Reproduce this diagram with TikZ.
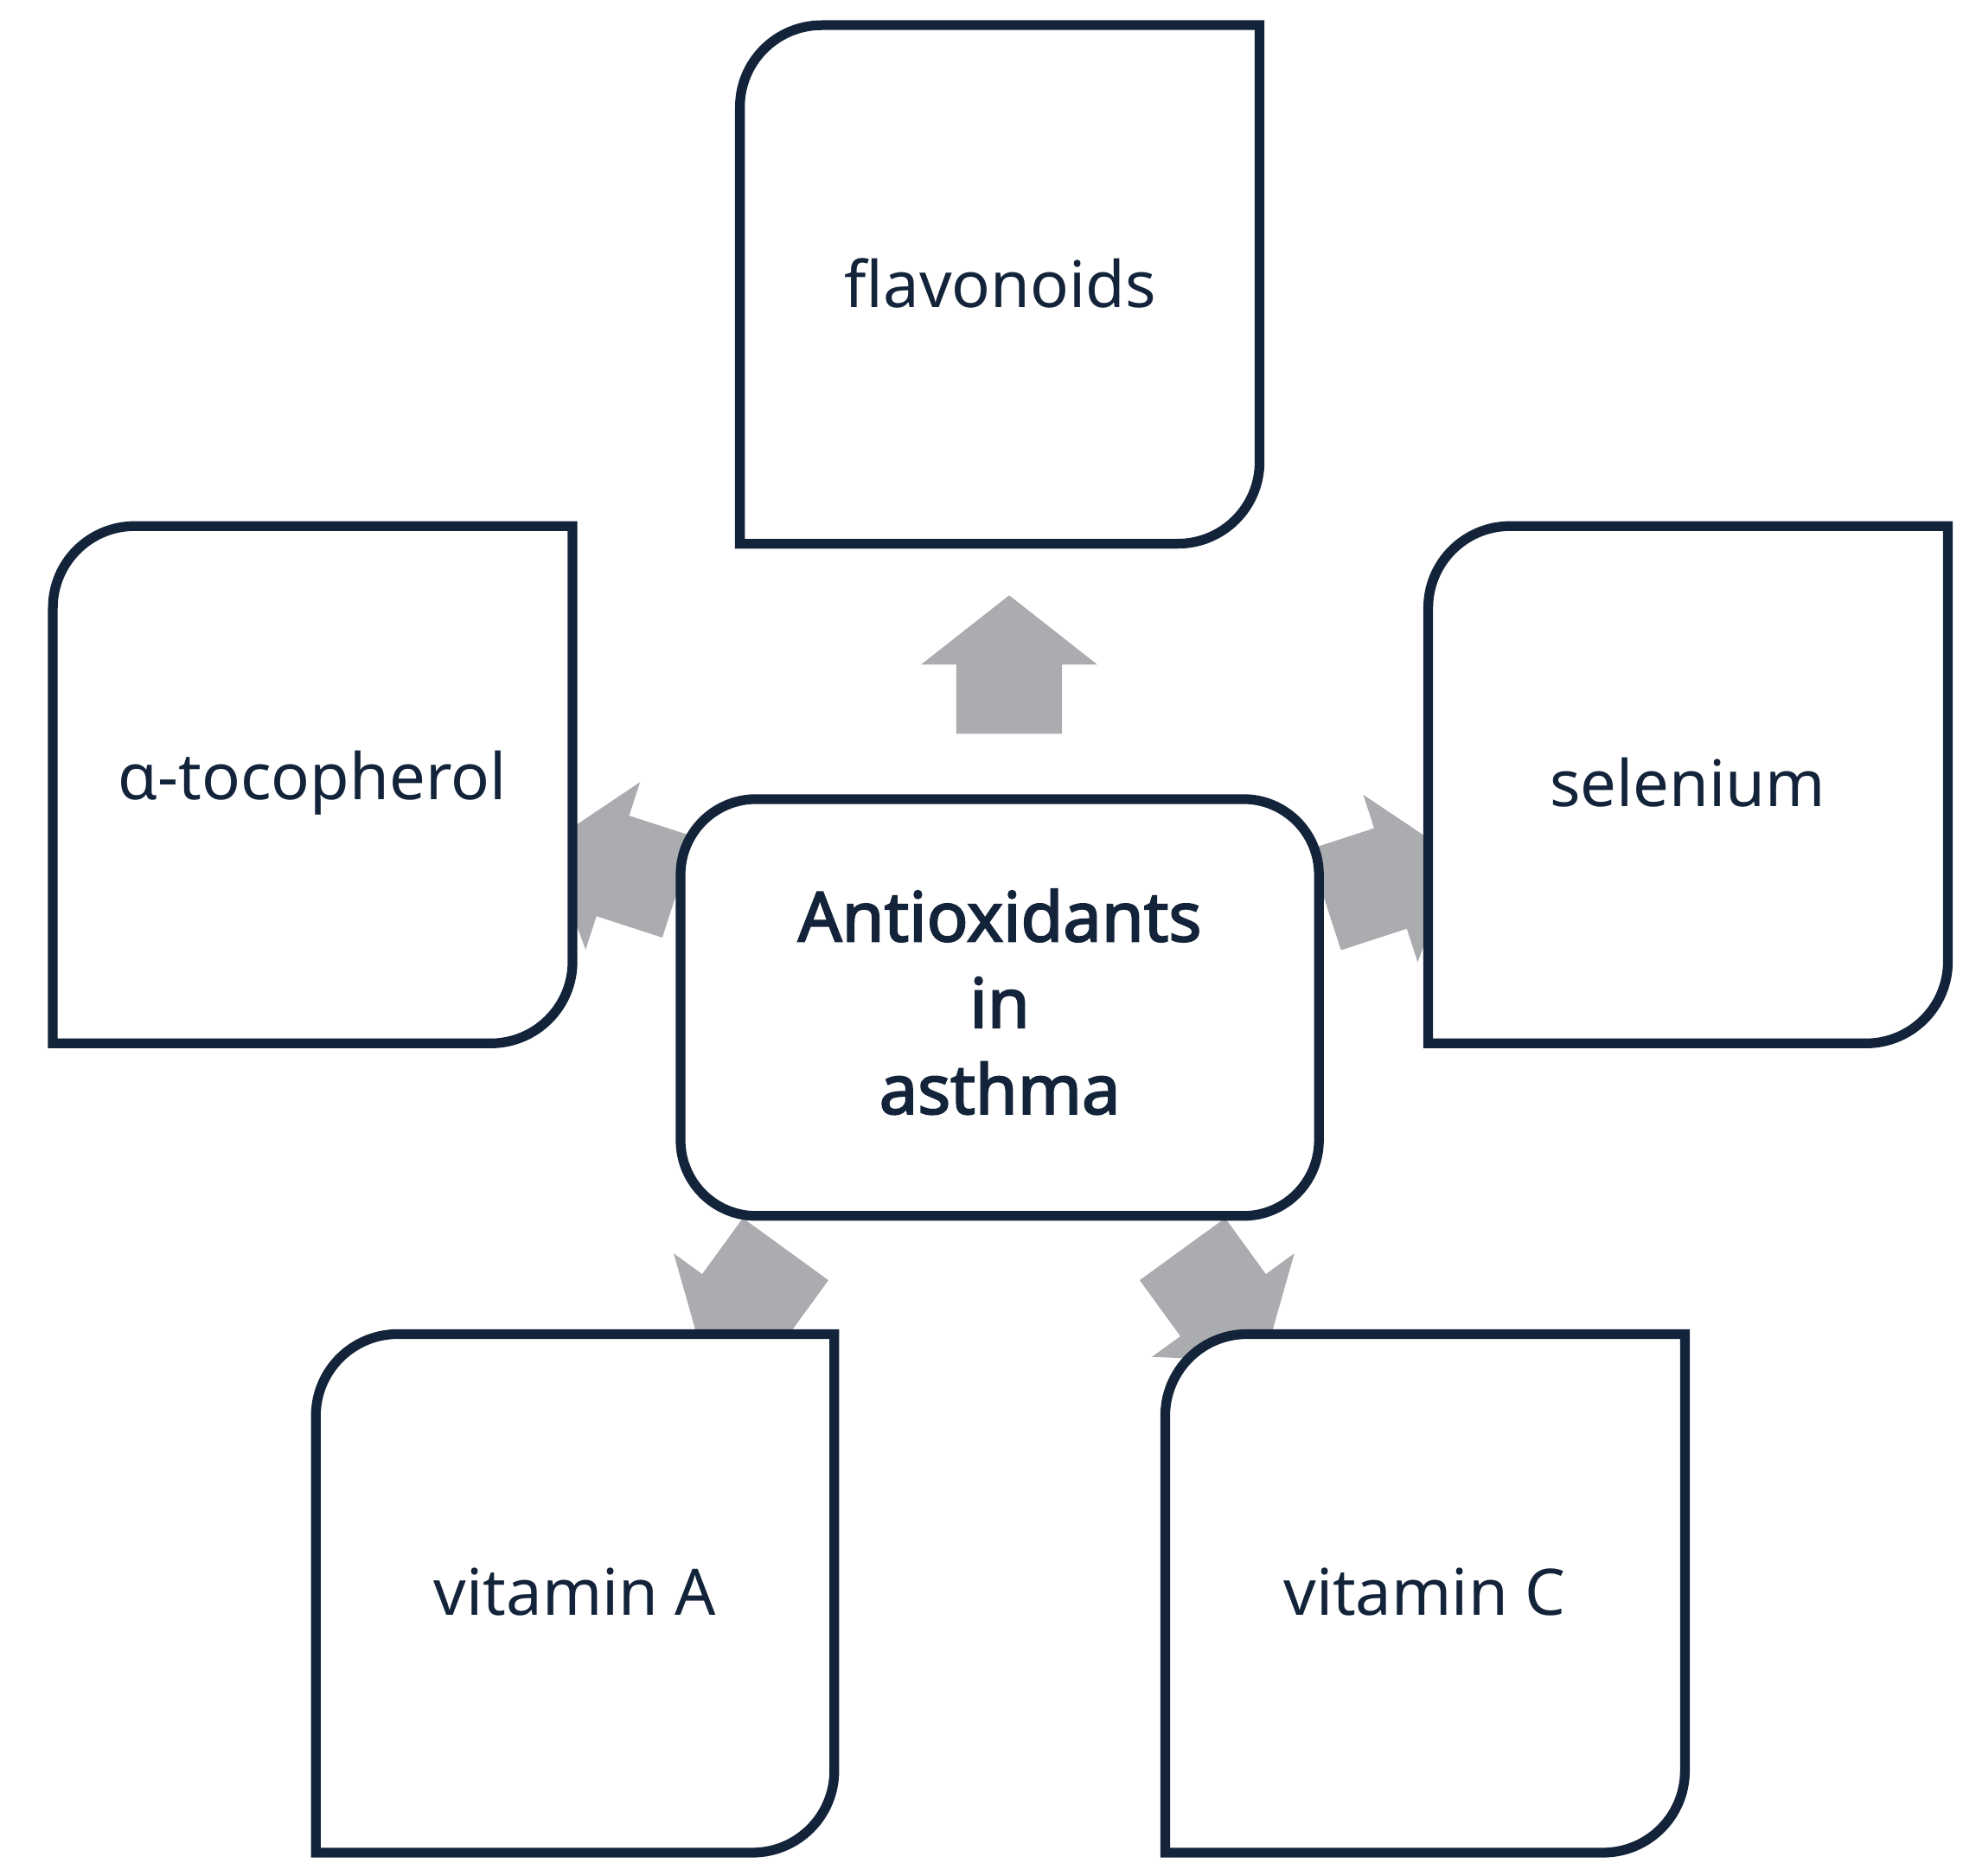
\documentclass[tikz,border=0pt]{standalone}
\usepackage{fontspec}
\setmainfont{Noto Sans}
\newfontfamily\boldf{Noto Sans}[FakeBold=2.5]
\definecolor{ink}{HTML}{13243A}
\definecolor{arr}{HTML}{ABACAF}
\begin{document}
\begin{tikzpicture}[x=0.01cm,y=-0.01cm,
  leaf/.style={draw=ink,line width=2.2pt,fill=white},
  lbl/.style={text=ink,font=\fontsize{14.5}{18}\selectfont,align=center}]
\useasboundingbox (0,0) rectangle (1560,1490);
\newcommand{\blockarrow}[3]{%
  \fill[arr,shift={(#1,#2)},rotate=#3] (-55,-42)--(0,-42)--(0,-70)--(55,0)--(0,70)--(0,42)--(-55,42)--cycle;}
\blockarrow{802}{528}{90}
\blockarrow{487}{688}{162}
\blockarrow{1105}{698}{18}
\blockarrow{592}{1037}{-126}
\blockarrow{972}{1037}{-54}
\newcommand{\leafbox}[5]{%
  \draw[leaf] (#1,#2+65) arc[start angle=180,end angle=90,x radius=65,y radius=-65]
    -- (#3,#2) -- (#3,#4-65) arc[start angle=0,end angle=-90,x radius=65,y radius=-65]
    -- (#1,#4) -- cycle;
  \coordinate (#5) at ({(#1+#3)/2},{(#2+#4)/2});}
\leafbox{588}{20}{1001}{432}{fl}
\leafbox{42}{418}{455}{829}{at}
\leafbox{1135}{418}{1548}{829}{se}
\leafbox{251}{1060}{663}{1472}{va}
\leafbox{926}{1060}{1339}{1472}{vc}
\node[lbl] (flt) at (795,225) {flavonoids};
\node[lbl] (att) at (248,622) {α-tocopherol};
\node[lbl] (set) at (1341,622) {selenium};
\node[lbl] (vat) at (457,1265) {vitamin A};
\node[lbl] (vct) at (1132,1265) {vitamin C};
\node[draw=ink,line width=2.2pt,fill=white,rounded corners=0.6cm,minimum width=5.07cm,minimum height=3.31cm] (c) at (794.5,800.5) {};
\node[text=ink,font=\boldf\fontsize{15.5}{19.5}\selectfont,align=center] (ct) at (794.5,796) {Antioxidants\\in\\asthma};
\end{tikzpicture}
\end{document}
